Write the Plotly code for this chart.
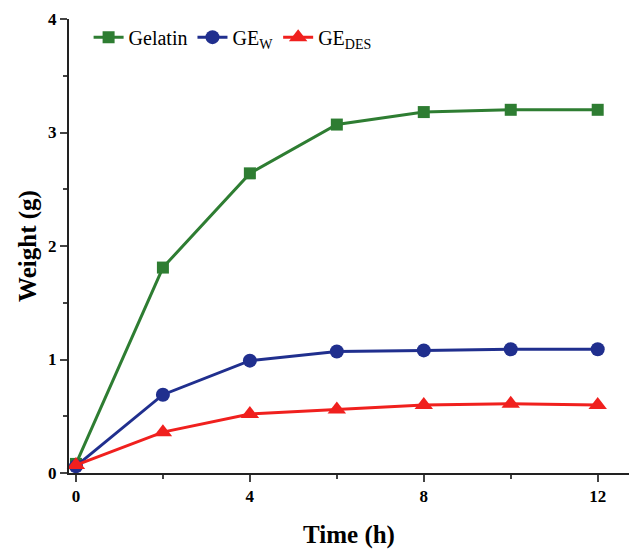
import plotly.graph_objects as go

time_h = [0, 2, 4, 6, 8, 10, 12]
gelatin = [0.08, 1.81, 2.64, 3.07, 3.18, 3.20, 3.20]
ge_w = [0.06, 0.69, 0.99, 1.07, 1.08, 1.09, 1.09]
ge_des = [0.07, 0.36, 0.52, 0.56, 0.60, 0.61, 0.60]

fig = go.Figure()
fig.add_trace(go.Scatter(x=time_h, y=gelatin, name="Gelatin", mode="lines+markers",
                         line=dict(color="#2e7d32", width=3),
                         marker=dict(symbol="square", size=12, color="#2e7d32"), cliponaxis=False))
fig.add_trace(go.Scatter(x=time_h, y=ge_w, name="GE<sub>W</sub>", mode="lines+markers",
                         line=dict(color="#202f8e", width=3),
                         marker=dict(symbol="circle", size=14, color="#202f8e"), cliponaxis=False))
fig.add_trace(go.Scatter(x=time_h, y=ge_des, name="GE<sub>DES</sub>", mode="lines+markers",
                         line=dict(color="#f0201e", width=3),
                         marker=dict(symbol="triangle-up", size=16, color="#f0201e"), cliponaxis=False))

font_family = "Liberation Serif, Times New Roman, serif"
fig.update_layout(
    width=629, height=549,
    margin=dict(l=69, r=0, t=19, b=76),
    plot_bgcolor="white", paper_bgcolor="white",
    font=dict(family=font_family, color="black"),
    legend=dict(orientation="h", x=0.035, y=0.96, xanchor="left", yanchor="middle",
                font=dict(size=20, family=font_family), bgcolor="rgba(0,0,0,0)",
                itemwidth=30, tracegroupgap=0),
    showlegend=True,
)
fig.update_xaxes(
    range=[-0.16, 12.72], tickvals=[0, 4, 8, 12], ticks="outside", ticklen=7, tickwidth=2,
    showline=True, linecolor="#222", linewidth=2, showgrid=False, zeroline=False,
    tickfont=dict(size=17, family=font_family, weight="bold"),
    minor=dict(tickvals=[2, 6, 10], ticks="outside", ticklen=4, tickwidth=2, showgrid=False),
    title=dict(text="Time (h)", font=dict(size=25, family=font_family, weight="bold"), standoff=22),
)
fig.update_yaxes(
    range=[0, 4], tickvals=[0, 1, 2, 3, 4], ticks="outside", ticklen=7, tickwidth=2,
    showline=True, linecolor="#222", linewidth=2, showgrid=False, zeroline=False,
    tickfont=dict(size=17, family=font_family, weight="bold"),
    minor=dict(tickvals=[0.5, 1.5, 2.5, 3.5], ticks="outside", ticklen=4, tickwidth=2, showgrid=False),
    title=dict(text="Weight (g)", font=dict(size=25, family=font_family, weight="bold"), standoff=4),
)
fig.write_html("out.html")
